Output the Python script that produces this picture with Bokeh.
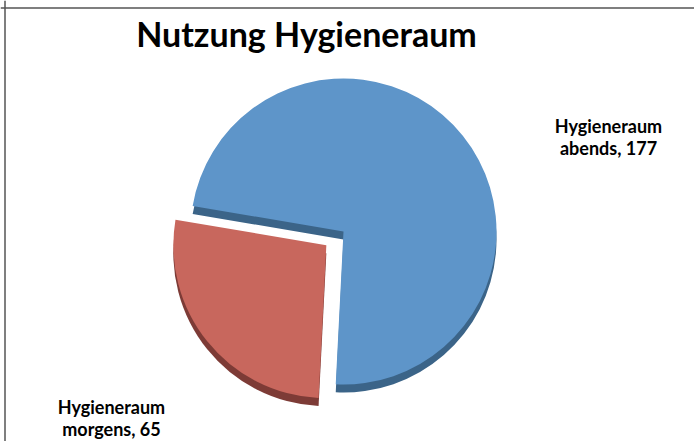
import math
from bokeh.plotting import figure
from bokeh.models import ColumnDataSource, Range1d, Span
from bokeh.core.properties import value
from bokeh.embed import file_html
from bokeh.resources import INLINE

# ---- data ----
title_text = "Nutzung Hygieneraum"
categories = ["Hygieneraum morgens", "Hygieneraum abends"]
values = [65, 177]
colors = ["#c8675d", "#5e95c9"]
side_colors = ["#7d3b36", "#3b6488"]
exploded = [True, False]

W, H = 694, 441
p = figure(width=W, height=H, output_backend="svg", toolbar_location=None,
           x_range=Range1d(0, W), y_range=Range1d(0, H),
           min_border=0, outline_line_color=None)
p.axis.visible = False
p.grid.visible = False
p.background_fill_color = "white"

# pie geometry (data units == pixels)
cx, cy, r = 343, 210, 153
start_deg = 170.4
depth = 8
explode_dist = 22

total = sum(values)
starts, ends, xs, ys = [], [], [], []
a = start_deg
for v, ex in zip(values, exploded):
    span = 360.0 * v / total
    s, e = a, a + span
    mid = math.radians((s + e) / 2)
    dx = explode_dist * math.cos(mid) if ex else 0
    dy = explode_dist * math.sin(mid) if ex else 0
    starts.append(math.radians(s)); ends.append(math.radians(e))
    xs.append(cx + dx); ys.append(cy + dy)
    a = e

src = ColumnDataSource(dict(x=xs, y=ys, ys=[y - depth for y in ys],
                            start=starts, end=ends,
                            color=colors, side=side_colors))
# 3D side (depth)
p.wedge(x="x", y="ys", radius=r, start_angle="start", end_angle="end",
        fill_color="side", line_color=None, source=src)
# top surface
p.wedge(x="x", y="y", radius=r, start_angle="start", end_angle="end",
        fill_color="color", line_color=None, source=src)

# labels
label_x = [111, 608]
label_y = [24, 305]
texts = []
for c, v in zip(categories, values):
    name, part = c.split(" ")
    texts.append(f"{name}\n{part}, {v}")
p.text(x=label_x, y=label_y, text=texts, text_align="center",
       text_baseline="middle", text_font=value("Lato"), text_font_style="bold",
       text_font_size="18px", text_line_height=1.0, text_color="black")

# title
p.text(x=[306], y=[408], text=[title_text], text_align="center",
       text_baseline="middle", text_font=value("Lato"), text_font_style="bold",
       text_font_size="34px", text_color="black")

# chart border (top and left visible)
p.add_layout(Span(location=H - 7.5, dimension="width", line_color="#555555", line_width=1.5))
p.add_layout(Span(location=4.5, dimension="height", line_color="#555555", line_width=1.5))

open("out.html", "w").write(file_html(p, INLINE))
